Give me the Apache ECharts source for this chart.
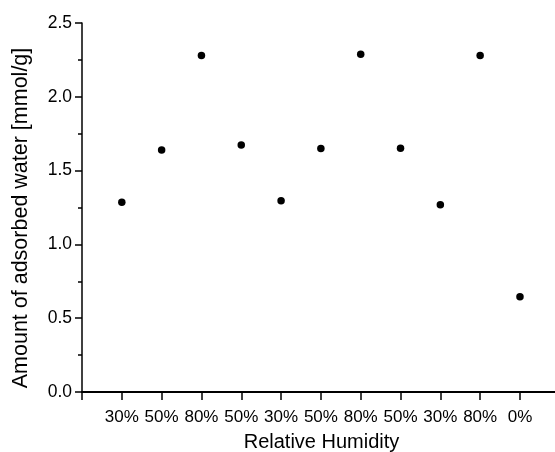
<!DOCTYPE html>
<html>
<head>
<meta charset="utf-8">
<script src="https://cdn.jsdelivr.net/npm/echarts@6/dist/echarts.min.js"></script>
<style>html,body{margin:0;padding:0;background:#fff}#c{width:555px;height:452px}</style>
</head>
<body>
<div id="c"></div>
<script>
const categories = ['30%','50%','80%','50%','30%','50%','80%','50%','30%','80%','0%'];
const waterValues = [1.285, 1.640, 2.279, 1.673, 1.296, 1.649, 2.288, 1.651, 1.269, 2.279, 0.646];
const yTicks = [0, 0.5, 1.0, 1.5, 2.0, 2.5];

const FONT = '"Liberation Sans", Arial, sans-serif';
const chart = echarts.init(document.getElementById('c'), null, {renderer: 'canvas'});
chart.setOption({
  animation: false,
  backgroundColor: '#fff',
  grid: {left: 82, right: 0, top: 23, bottom: 60, containLabel: false, outerBoundsMode: 'none'},
  xAxis: {
    type: 'value', min: 0, max: 11.88, interval: 1,
    name: 'Relative Humidity', nameLocation: 'middle', nameGap: 40,
    nameTextStyle: {fontFamily: FONT, fontSize: 20, color: '#000', padding: [0, 0, 0, 6]},
    axisLine: {show: true, onZero: false, lineStyle: {color: '#000', width: 2}},
    axisTick: {show: true, inside: false, length: 8, lineStyle: {color: '#000', width: 1.5}},
    axisLabel: {
      fontFamily: FONT, fontSize: 17, color: '#000', margin: 17,
      showMaxLabel: false,
      formatter: v => (v >= 1 && v <= categories.length && Number.isInteger(v)) ? categories[v - 1] : ''
    },
    splitLine: {show: false}
  },
  yAxis: {
    type: 'value', min: yTicks[0], max: yTicks[yTicks.length - 1], interval: 0.5,
    name: 'Amount of adsorbed water [mmol/g]', nameLocation: 'middle', nameGap: 50,
    nameTextStyle: {fontFamily: FONT, fontSize: 21.5, color: '#000', padding: [0, 21, 0, 0]},
    axisLine: {show: true, onZero: false, lineStyle: {color: '#000', width: 1.5}},
    axisTick: {show: true, inside: false, length: 7, lineStyle: {color: '#000', width: 1.5}},
    minorTick: {show: true, splitNumber: 2, length: 4, lineStyle: {color: '#000', width: 1.5}},
    axisLabel: {fontFamily: FONT, fontSize: 17.5, color: '#000', margin: 10,
      formatter: v => v.toFixed(1)},
    splitLine: {show: false}
  },
  series: [{
    type: 'scatter',
    symbol: 'circle', symbolSize: 7.5,
    itemStyle: {color: '#000', opacity: 1},
    data: waterValues.map((v, i) => [i + 1, v])
  }]
});
</script>
</body>
</html>
